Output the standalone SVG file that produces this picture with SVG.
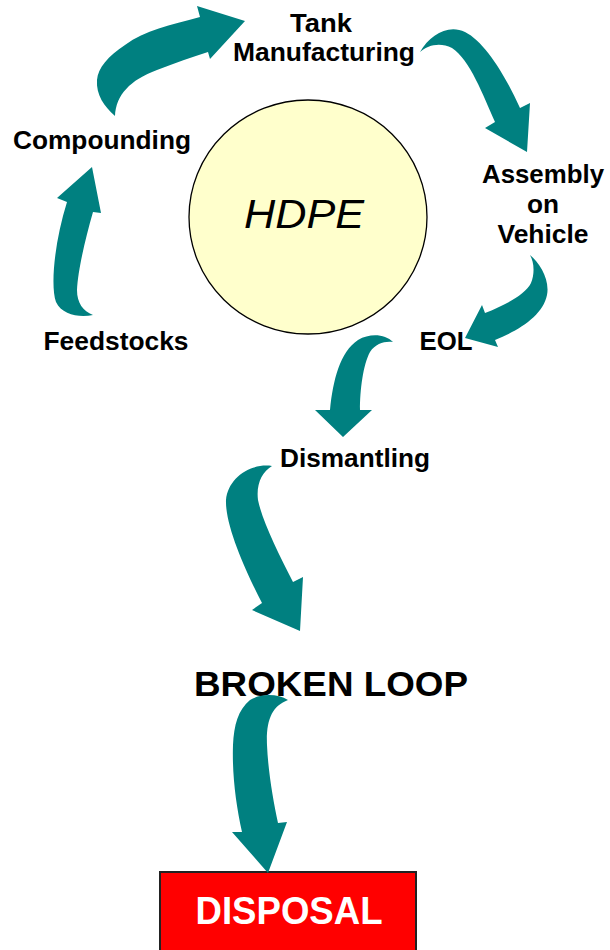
<svg xmlns="http://www.w3.org/2000/svg" width="610" height="950" viewBox="0 0 610 950">
<style>
.lbl{font-family:"Liberation Sans",Arial,sans-serif;font-weight:bold;font-size:26px;fill:#000;text-anchor:middle}
.arr{fill:#008080;stroke:none}
</style>
<rect width="610" height="950" fill="#fff"/>
<g id="hdpe">
<ellipse cx="308" cy="217" rx="119" ry="117" fill="#FFFFCC" stroke="#000" stroke-width="1.3"/>
<text x="304" y="228" font-family="Liberation Sans,Arial,sans-serif" font-style="italic" font-size="40" text-anchor="middle" textLength="120" lengthAdjust="spacingAndGlyphs">HDPE</text>
</g>
<g id="tank"><text class="lbl" x="321" y="32" textLength="62" lengthAdjust="spacingAndGlyphs">Tank</text>
<text class="lbl" x="324" y="61" textLength="182" lengthAdjust="spacingAndGlyphs">Manufacturing</text></g>
<g id="compounding"><text class="lbl" x="102" y="149" textLength="178" lengthAdjust="spacingAndGlyphs">Compounding</text></g>
<g id="assembly"><text class="lbl" x="543" y="183" textLength="122" lengthAdjust="spacingAndGlyphs">Assembly</text>
<text class="lbl" x="543" y="213" textLength="32" lengthAdjust="spacingAndGlyphs">on</text>
<text class="lbl" x="543" y="243" textLength="91" lengthAdjust="spacingAndGlyphs">Vehicle</text></g>
<g id="feedstocks"><text class="lbl" x="116" y="350" textLength="145" lengthAdjust="spacingAndGlyphs">Feedstocks</text></g>
<g id="eol"><text class="lbl" x="446" y="350" textLength="53" lengthAdjust="spacingAndGlyphs">EOL</text></g>
<g id="dismantling"><text class="lbl" x="355" y="467" textLength="150" lengthAdjust="spacingAndGlyphs">Dismantling</text></g>
<g id="broken"><text class="lbl" x="331" y="696" style="font-size:35px" textLength="274" lengthAdjust="spacingAndGlyphs">BROKEN LOOP</text></g>
<g id="disposal">
<rect x="160" y="872" width="256" height="90" fill="#FF0000" stroke="#222" stroke-width="2"/>
<text class="lbl" x="289" y="924" style="font-size:38px;fill:#fff" textLength="187" lengthAdjust="spacingAndGlyphs">DISPOSAL</text>
</g>
<g id="connectors">
<path class="arr" d="M115,116 C116,95 130,80 157,70 C175,63 192,57 208,52 L210,59 L245,21 L197,6 L200,17 C170,25 145,30 125,45 C108,56 98,68 97,80 C96,95 104,106 115,116 Z"/>
<path class="arr" d="M420,52 C428,45 440,42 452,48 C470,60 483,95 495,122 L485,128 L527,152 L530,103 L520,108 C505,75 485,42 465,32 C448,24 430,35 420,52 Z"/>
<path class="arr" d="M530,255 C540,263 550,280 547,295 C543,315 520,330 495,340 L498,347 L465,338 L482,305 L485,313 C505,305 525,295 531,283 C535,273 534,262 530,255 Z"/>
<path class="arr" d="M393,342 C385,334 370,333 358,340 C340,352 333,380 330,410 L315,410 L343,437 L372,410 L360,410 C360,390 363,365 370,352 C376,343 385,341 393,342 Z"/>
<path class="arr" d="M93,315 C80,318 62,315 56,302 C50,285 55,240 67,202 L57,198 L92,167 L101,213 L93,212 C85,240 78,270 77,290 C77,303 83,311 93,315 Z"/>
<path class="arr" d="M272,466 C250,463 228,478 226,500 C225,525 245,570 262,603 L252,610 L300,631 L303,577 L293,582 C278,553 262,520 258,500 C256,484 262,472 272,466 Z"/>
<path class="arr" d="M288,700 C278,694 262,693 250,700 C238,710 234,725 233,745 C232,775 236,805 242,832 L232,832 L268,873 L287,822 L278,823 C273,800 268,770 267,745 C266,720 272,706 288,700 Z"/>
</g>
</svg>
